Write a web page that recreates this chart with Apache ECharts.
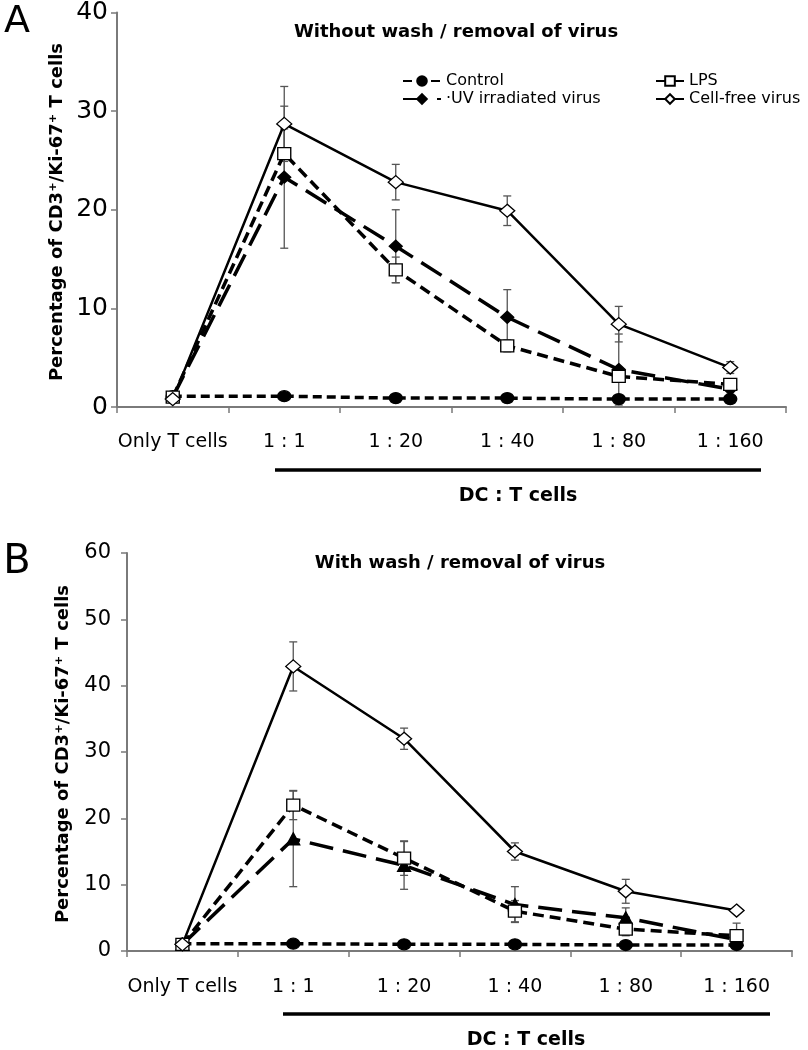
<!DOCTYPE html>
<html><head><meta charset="utf-8">
<script src="https://cdn.jsdelivr.net/npm/echarts@6/dist/echarts.min.js"></script>
<style>html,body{margin:0;padding:0;background:#fff}#c{width:808px;height:1050px}</style>
</head><body><div id="c"></div>
<script>
// ---- data ----
const categories = ['Only T cells', '1 : 1', '1 : 20', '1 : 40', '1 : 80', '1 : 160'];
const names = ['Control', 'LPS', 'UV irradiated virus', 'Cell-free virus'];
// Panel A (without wash)
const aControl = [1.1, 1.1, 0.9, 0.9, 0.8, 0.8];
const aControlErr = [0, 0, 0, 0, 0, 0];
const aLPS = [1.0, 25.7, 13.9, 6.2, 3.1, 2.3];
const aLPSErr = [0, 2.5, 1.3, 0.6, 0.6, 0.5];
const aUV = [1.0, 23.3, 16.3, 9.1, 3.8, 1.8];
const aUVErr = [0, 7.2, 3.7, 2.8, 3.6, 0.5];
const aCellFree = [0.8, 28.7, 22.8, 19.9, 8.4, 4.0];
const aCellFreeErr = [0, 3.8, 1.8, 1.5, 1.8, 0.6];
// Panel B (with wash)
const bControl = [1.1, 1.1, 1.0, 1.0, 0.9, 0.9];
const bControlErr = [0, 0, 0, 0, 0, 0];
const bLPS = [1.0, 22.0, 14.0, 6.0, 3.3, 2.3];
const bLPSErr = [0, 2.2, 2.6, 1.6, 1.0, 1.9];
const bUV = [1.0, 16.9, 12.9, 7.0, 5.0, 1.7];
const bUVErr = [0, 7.2, 3.6, 2.7, 1.5, 0.5];
const bCellFree = [1.0, 42.9, 32.0, 15.0, 9.0, 6.1];
const bCellFreeErr = [0, 3.7, 1.6, 1.3, 1.8, 0.3];
// axes
const yMaxA = 40, yMaxB = 60, yStep = 10;

const FONT = 'DejaVu Sans';
const chart = echarts.init(document.getElementById('c'), null, {renderer: 'canvas'});

function errData(vals, errs) {
  return vals.map((v, i) => [i, v - errs[i], v + errs[i], errs[i]]);
}
function errItem(params, api) {
  if (api.value(3) <= 0) return null;
  const i = api.value(0);
  const top = api.coord([i, api.value(2)]);
  const bot = api.coord([i, api.value(1)]);
  const w = 4;
  const st = {stroke: '#555', lineWidth: 1.3};
  return {type: 'group', children: [
    {type: 'line', shape: {x1: top[0], y1: top[1], x2: bot[0], y2: bot[1]}, style: st},
    {type: 'line', shape: {x1: top[0] - w, y1: top[1], x2: top[0] + w, y2: top[1]}, style: st},
    {type: 'line', shape: {x1: bot[0] - w, y1: bot[1], x2: bot[0] + w, y2: bot[1]}, style: st}
  ]};
}

const styles = {
  'Control': {symbol: 'circle', size: [13, 11], fill: '#000', dash: [9, 5], width: 3.5},
  'LPS': {symbol: 'rect', size: [13, 12], fill: '#fff', dash: [11, 6], width: 3.5},
  'UV irradiated virus': {symbol: 'diamond', size: [13, 12], fill: '#000', dash: [24, 10], width: 3.5},
  'Cell-free virus': {symbol: 'diamond', size: [15, 13], fill: '#fff', dash: 'solid', width: 2.5}
};

function lineSeries(name, data, idx, symbolOverride) {
  const s = styles[name];
  return {
    type: 'line', name: name, xAxisIndex: idx, yAxisIndex: idx, data: data,
    symbol: symbolOverride || s.symbol, symbolSize: s.size,
    itemStyle: {color: s.fill, borderColor: '#000', borderWidth: 1.3},
    lineStyle: {color: '#000', width: s.width, type: s.dash},
    z: 3
  };
}
function errSeries(vals, errs, idx) {
  return {type: 'custom', xAxisIndex: idx, yAxisIndex: idx, renderItem: errItem,
    data: errData(vals, errs), encode: {x: 0, y: [1, 2]}, z: 2, silent: true};
}

function xAxis(idx, margin) {
  return {
    type: 'category', gridIndex: idx, data: categories, boundaryGap: true,
    axisLine: {lineStyle: {color: '#7a7a7a', width: 2}},
    axisTick: {show: true, length: 6, lineStyle: {color: '#7a7a7a', width: 1.5}},
    axisLabel: {interval: 0, fontFamily: FONT, fontSize: 19, color: '#000', margin: margin}
  };
}
function yAxis(idx, max, fs, margin) {
  return {
    type: 'value', gridIndex: idx, min: 0, max: max, interval: yStep,
    axisLine: {show: true, lineStyle: {color: '#7a7a7a', width: 2}},
    axisTick: {show: true, length: 6, lineStyle: {color: '#7a7a7a', width: 1.5}},
    splitLine: {show: false},
    axisLabel: {fontFamily: FONT, fontSize: fs, color: '#000', margin: margin}
  };
}

const yTitle = 'Percentage of CD3\u207A/Ki-67\u207A T cells';
const txt = (text, x, y, size, weight, extra) => Object.assign({
  type: 'text', x: x, y: y,
  style: {text: text, fontFamily: FONT, fontSize: size, fontWeight: weight, fill: '#000',
    align: 'center', verticalAlign: 'middle'}
}, extra || {});

chart.setOption({
  animation: false,
  backgroundColor: '#fff',
  grid: [
    {left: 117, right: 22, top: 10, bottom: 643},
    {left: 127, right: 16, top: 553, bottom: 99}
  ],
  xAxis: [xAxis(0, 26), xAxis(1, 27)],
  yAxis: [yAxis(0, yMaxA, 25, 9), yAxis(1, yMaxB, 21, 16)],
  legend: [
    {data: ['Control', 'UV irradiated virus'], orient: 'vertical', left: 402, top: 73, padding: 0,
     itemWidth: 38, itemHeight: 12, itemGap: 2,
     textStyle: {fontFamily: FONT, fontSize: 16, color: '#000'},
     formatter: n => n === 'UV irradiated virus' ? '\u00B7UV irradiated virus' : n},
    {data: ['LPS', 'Cell-free virus'], orient: 'vertical', left: 655, top: 73, padding: 0,
     itemWidth: 28, itemHeight: 12, itemGap: 2,
     textStyle: {fontFamily: FONT, fontSize: 16, color: '#000'}}
  ],
  series: [
    errSeries(aControl, aControlErr, 0),
    errSeries(aLPS, aLPSErr, 0),
    errSeries(aUV, aUVErr, 0),
    errSeries(aCellFree, aCellFreeErr, 0),
    lineSeries('Control', aControl, 0),
    lineSeries('UV irradiated virus', aUV, 0),
    lineSeries('LPS', aLPS, 0),
    lineSeries('Cell-free virus', aCellFree, 0),
    errSeries(bControl, bControlErr, 1),
    errSeries(bLPS, bLPSErr, 1),
    errSeries(bUV, bUVErr, 1),
    errSeries(bCellFree, bCellFreeErr, 1),
    lineSeries('Control', bControl, 1),
    lineSeries('UV irradiated virus', bUV, 1, 'triangle'),
    lineSeries('LPS', bLPS, 1),
    lineSeries('Cell-free virus', bCellFree, 1)
  ],
  graphic: [
    txt('A', 17, 22, 38, 'normal'),
    txt('B', 17, 563, 40, 'normal'),
    txt('Without wash / removal of virus', 456, 32, 18, 'bold'),
    txt('With wash / removal of virus', 460, 563, 18, 'bold'),
    txt(yTitle, 57, 212, 18, 'bold', {rotation: Math.PI / 2}),
    txt(yTitle, 63, 754, 18, 'bold', {rotation: Math.PI / 2}),
    {type: 'line', shape: {x1: 275, y1: 470, x2: 761, y2: 470}, style: {stroke: '#000', lineWidth: 3.3}},
    {type: 'line', shape: {x1: 283, y1: 1014, x2: 770, y2: 1014}, style: {stroke: '#000', lineWidth: 3.3}},
    txt('DC : T cells', 518, 496, 19, 'bold'),
    txt('DC : T cells', 526, 1040, 19, 'bold')
  ]
});
</script></body></html>
